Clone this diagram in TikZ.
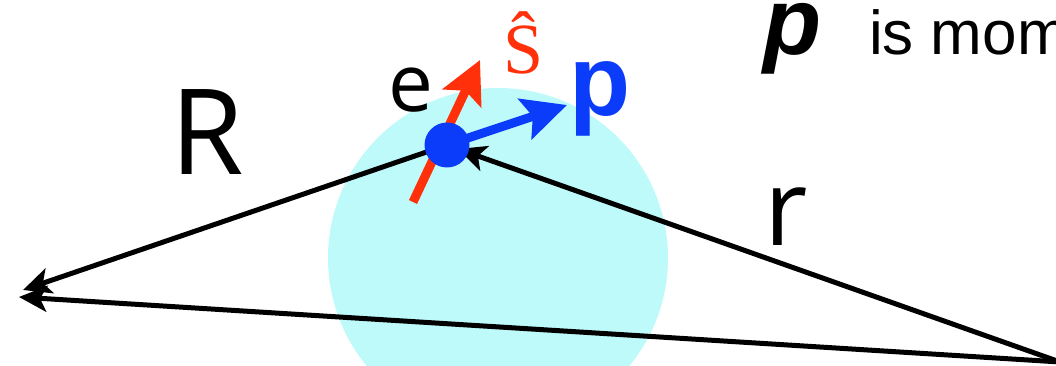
\documentclass[tikz,border=0pt]{standalone}
\usepackage{fontspec}
\setmainfont{Liberation Sans}
\newfontfamily\humsans{Open Sans}
\newfontfamily\serifface{Liberation Serif}
\usetikzlibrary{arrows.meta}
\definecolor{pale}{RGB}{191,250,250}
\definecolor{spinred}{RGB}{255,48,10}
\definecolor{momblue}{RGB}{10,60,250}
\tikzset{
  vec/.style={line width=5pt, -{Stealth[length=28pt,width=26pt,inset=7pt]}},
  spinarrow/.style={spinred, line width=9pt, -{Stealth[length=42pt,width=42pt,inset=8pt]}},
  momarrow/.style={momblue, line width=9pt, -{Stealth[length=44pt,width=42pt,inset=8pt]}},
  lbl/.style={anchor=base west, inner sep=0pt, outer sep=0pt},
}
\begin{document}
\begin{tikzpicture}[x=1pt,y=-1pt]
\useasboundingbox (0,0) rectangle (1056,366);
\begin{scope}
\clip (0,0) rectangle (1056,366);
\node[circle, fill=pale, minimum size=340pt, inner sep=0pt] (disk) at (498,258) {};
\end{scope}
\coordinate (ectr) at (447,145);
\coordinate (corner) at (1060,362);
\coordinate (tipA) at (23,290);
\coordinate (tipB) at (19,297);
\coordinate (tipC) at (458,149);
\coordinate (stail) at (413,202);
\coordinate (stip) at (480,60);
\coordinate (ptip) at (567,105);
\draw[vec] (ectr) -- (tipA);
\draw[vec] (corner) -- (tipB);
\draw[vec] (corner) -- (tipC);
\draw[spinarrow] (stail) -- (stip);
\draw[momarrow] (ectr) -- (ptip);
\node[circle, fill=momblue, minimum size=45pt, inner sep=0pt] (dot) at (ectr) {};
\node[lbl] (Rl) at (170,175) {\humsans\fontsize{119}{119}\selectfont R};
\node[lbl] (rl) at (764,245) {\humsans\fontsize{106}{106}\selectfont r};
\node[lbl] (el) at (388,112) {\humsans\fontsize{80}{80}\selectfont e};
\node[lbl, text=spinred] (sl) at (503,74) {\serifface\fontsize{72}{72}\selectfont \^S};
\node[lbl, text=momblue] (pl) at (569,116) {\fontsize{100}{100}\selectfont\bfseries p};
\node[lbl] (pdef) at (763,55) {\fontsize{95}{95}\selectfont\bfseries\itshape p};
\node[lbl] (isl) at (869,55) {\fontsize{62}{62}\selectfont is mom};
\end{tikzpicture}
\end{document}
